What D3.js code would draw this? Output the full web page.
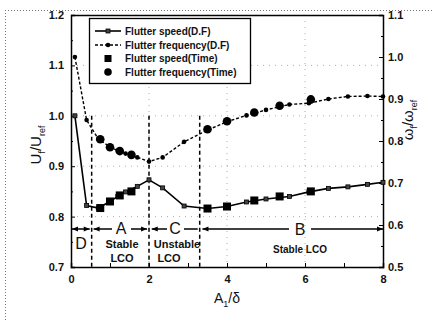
<!DOCTYPE html>
<html>
<head>
<meta charset="utf-8">
<script src="https://cdn.jsdelivr.net/npm/d3@7"></script>
<style>
  html, body { margin: 0; padding: 0; background: #fff; }
  svg text { font-family: "Liberation Sans", Arial, sans-serif; fill: #111; }
</style>
</head>
<body>
<svg id="chart" width="433" height="320"></svg>
<script>
// ---- data ----
const xDF = [0.1, 0.4, 0.7, 1.0, 1.2, 1.4, 1.7, 2.0, 2.35, 2.9, 3.5, 4.0, 4.5, 5.0, 5.6, 6.1, 6.6, 7.1, 7.6, 8.0];
const speedDF = [1.0, 0.822, 0.817, 0.830, 0.840, 0.849, 0.860, 0.873, 0.857, 0.821, 0.816, 0.820, 0.829, 0.835, 0.840, 0.849, 0.856, 0.859, 0.864, 0.868];
const freqDF = [1.0, 0.85, 0.805, 0.786, 0.777, 0.770, 0.761, 0.751, 0.761, 0.798, 0.826, 0.846, 0.861, 0.874, 0.887, 0.890, 0.900, 0.906, 0.907, 0.906];
const xTime = [0.75, 1.0, 1.25, 1.55, 3.5, 4.0, 4.7, 5.35, 6.15];
const speedTime = [0.817, 0.830, 0.842, 0.850, 0.816, 0.820, 0.832, 0.840, 0.850];
const freqTime = [0.804, 0.785, 0.776, 0.767, 0.828, 0.847, 0.868, 0.884, 0.899];
const xTicks = [0, 2, 4, 6, 8];
const yLeftTicks = [0.7, 0.8, 0.9, 1.0, 1.1, 1.2];
const yRightTicks = [0.5, 0.6, 0.7, 0.8, 0.9, 1.0, 1.1];
const regionBounds = [0.53, 2.0, 3.3];
const legendLabels = ["Flutter speed(D.F)", "Flutter frequency(D.F)", "Flutter speed(Time)", "Flutter frequency(Time)"];

// ---- layout ----
const svg = d3.select("#chart");
const L = 71, T = 15, R = 383, B = 267;
const x = d3.scaleLinear().domain([0, 8]).range([L, R]);
const yL = d3.scaleLinear().domain([0.7, 1.2]).range([B, T]);
const yR = d3.scaleLinear().domain([0.5, 1.1]).range([B, T]);

// outer dotted frame (top and left)
svg.append("line").attr("x1", 5).attr("x2", 433).attr("y1", 10.5).attr("y2", 10.5)
  .attr("stroke", "#777").attr("stroke-dasharray", "1,2");
svg.append("line").attr("x1", 5.5).attr("x2", 5.5).attr("y1", 10).attr("y2", 320)
  .attr("stroke", "#777").attr("stroke-dasharray", "1,2");

// grid
const grid = svg.append("g").attr("stroke", "#999").attr("stroke-dasharray", "1,5").attr("stroke-width", 0.8);
[0.8, 0.9, 1.0, 1.1].forEach(v => grid.append("line").attr("x1", L).attr("x2", R).attr("y1", yL(v)).attr("y2", yL(v)));
[2, 4, 6].forEach(v => grid.append("line").attr("x1", x(v)).attr("x2", x(v)).attr("y1", T).attr("y2", B));

// axes
const axB = svg.append("g").attr("transform", `translate(0,${B})`)
  .call(d3.axisBottom(x).tickValues(d3.range(0, 8.01, 1)).tickSize(-4).tickFormat(d => xTicks.includes(d) ? d : ""));
const axL = svg.append("g").attr("transform", `translate(${L},0)`)
  .call(d3.axisLeft(yL).tickValues(d3.range(0.7, 1.2001, 0.05)).tickSize(-4)
    .tickFormat(d => { const r = Math.round(d * 100) / 100; return yLeftTicks.some(t => Math.abs(t - r) < 1e-6) ? r.toFixed(1) : ""; }));
const axR = svg.append("g").attr("transform", `translate(${R},0)`)
  .call(d3.axisRight(yR).tickValues(d3.range(0.5, 1.1001, 0.05)).tickSize(-4)
    .tickFormat(d => { const r = Math.round(d * 100) / 100; return yRightTicks.some(t => Math.abs(t - r) < 1e-6) ? r.toFixed(1) : ""; }));
svg.append("line").attr("x1", L).attr("x2", R).attr("y1", T + 0.5).attr("y2", T + 0.5).attr("stroke", "#000").attr("stroke-width", 1.5);
[axB, axL, axR].forEach(a => {
  a.select(".domain").attr("stroke", "#000").attr("stroke-width", 1.5);
  a.selectAll(".tick line").attr("stroke", "#000");
  a.selectAll(".tick text").attr("font-size", 11).attr("font-weight", "bold").attr("fill", "#111");
});
axB.selectAll(".tick text").attr("dy", "1.2em");
axL.selectAll(".tick text").attr("x", -7);
axR.selectAll(".tick text").attr("x", 5);
// shorten minor ticks
axL.selectAll(".tick").filter(function(){ return d3.select(this).select("text").text() === ""; }).select("line").attr("x2", 2);
axR.selectAll(".tick").filter(function(){ return d3.select(this).select("text").text() === ""; }).select("line").attr("x2", -2);

// region dashed lines
regionBounds.forEach(v => svg.append("line").attr("x1", x(v)).attr("x2", x(v)).attr("y1", yL(1.0)).attr("y2", B)
  .attr("stroke", "#000").attr("stroke-width", 1.5).attr("stroke-dasharray", "4,3"));

// lines
const speedPts = xDF.map((d, i) => [d, speedDF[i]]);
const freqPts = xDF.map((d, i) => [d, freqDF[i]]);
svg.append("path").datum(speedPts).attr("fill", "none").attr("stroke", "#000").attr("stroke-width", 1.6)
  .attr("d", d3.line().x(d => x(d[0])).y(d => yL(d[1])));
svg.append("path").datum(freqPts).attr("fill", "none").attr("stroke", "#000").attr("stroke-width", 1.4)
  .attr("stroke-dasharray", "3,2").attr("d", d3.line().x(d => x(d[0])).y(d => yR(d[1])));
svg.append("g").selectAll("rect").data(speedPts).join("rect")
  .attr("x", d => x(d[0]) - 2).attr("y", d => yL(d[1]) - 2).attr("width", 4).attr("height", 4)
  .attr("fill", "#444").attr("stroke", "#000").attr("stroke-width", 0.8);
svg.append("g").selectAll("circle").data(freqPts).join("circle")
  .attr("cx", d => x(d[0])).attr("cy", d => yR(d[1])).attr("r", 2.3).attr("fill", "#000");
svg.append("g").selectAll("rect").data(xTime.map((d, i) => [d, speedTime[i]])).join("rect")
  .attr("x", d => x(d[0]) - 4).attr("y", d => yL(d[1]) - 4).attr("width", 8).attr("height", 8).attr("fill", "#000");
svg.append("g").selectAll("circle").data(xTime.map((d, i) => [d, freqTime[i]])).join("circle")
  .attr("cx", d => x(d[0])).attr("cy", d => yR(d[1])).attr("r", 4.3).attr("fill", "#000");

// region arrows
const defs = svg.append("defs");
defs.append("marker").attr("id", "ah").attr("viewBox", "0 0 10 10").attr("refX", 10).attr("refY", 5)
  .attr("markerWidth", 7).attr("markerHeight", 6).attr("orient", "auto-start-reverse").attr("markerUnits", "userSpaceOnUse")
  .append("path").attr("d", "M0,1 L10,5 L0,9 Z").attr("fill", "#000");
const ay = 229;
function seg(a, b, start, end) {
  const l = svg.append("line").attr("x1", a).attr("x2", b).attr("y1", ay).attr("y2", ay).attr("stroke", "#000").attr("stroke-width", 1.5);
  if (start) l.attr("marker-start", "url(#ah)");
  if (end) l.attr("marker-end", "url(#ah)");
}
seg(x(0) + 1, x(0.48), true, true);
seg(x(0.58), 112, true, false); seg(131, x(1.95), false, true);
seg(x(2.07), 167, true, false); seg(184, x(3.25), false, false);
seg(x(3.37), 289, true, false); seg(311, x(8), false, true);

const ann = svg.append("g").attr("text-anchor", "middle");
ann.append("text").attr("x", 121).attr("y", 234).attr("font-size", 16).text("A");
ann.append("text").attr("x", 81).attr("y", 249).attr("font-size", 16).text("D");
ann.append("text").attr("x", 175).attr("y", 234).attr("font-size", 16).text("C");
ann.append("text").attr("x", 300).attr("y", 235).attr("font-size", 16).text("B");
ann.append("text").attr("x", 122).attr("y", 248).attr("font-size", 11).attr("font-weight", "bold").text("Stable");
ann.append("text").attr("x", 122).attr("y", 262).attr("font-size", 11).attr("font-weight", "bold").text("LCO");
ann.append("text").attr("x", 177).attr("y", 248).attr("font-size", 11).attr("font-weight", "bold").text("Unstable");
ann.append("text").attr("x", 169).attr("y", 262).attr("font-size", 11).attr("font-weight", "bold").text("LCO");
ann.append("text").attr("x", 300).attr("y", 253).attr("font-size", 10).attr("font-weight", "bold").text("Stable LCO");

// legend
const lg = svg.append("g");
lg.append("rect").attr("x", 89.5).attr("y", 18.5).attr("width", 161).attr("height", 65).attr("fill", "#fff").attr("stroke", "#000").attr("stroke-width", 1.3);
const rows = [31, 45, 58.5, 72];
legendLabels.forEach((t, i) => {
  const yy = rows[i];
  if (i === 0) {
    lg.append("line").attr("x1", 95).attr("x2", 121).attr("y1", yy).attr("y2", yy).attr("stroke", "#000").attr("stroke-width", 1.6);
    lg.append("rect").attr("x", 106).attr("y", yy - 2).attr("width", 4).attr("height", 4).attr("fill", "#444").attr("stroke", "#000").attr("stroke-width", 0.8);
  } else if (i === 1) {
    lg.append("line").attr("x1", 95).attr("x2", 121).attr("y1", yy).attr("y2", yy).attr("stroke", "#000").attr("stroke-width", 1.3).attr("stroke-dasharray", "3,2");
    lg.append("circle").attr("cx", 108).attr("cy", yy).attr("r", 2.3).attr("fill", "#000");
  } else if (i === 2) {
    lg.append("rect").attr("x", 104.5).attr("y", yy - 3.5).attr("width", 7).attr("height", 7).attr("fill", "#000");
  } else {
    lg.append("circle").attr("cx", 108).attr("cy", yy).attr("r", 3.8).attr("fill", "#000");
  }
  lg.append("text").attr("x", 125).attr("y", yy + 3.5).attr("font-size", 10).attr("font-weight", "bold").text(t);
});

// axis titles
const lt = svg.append("text").attr("transform", "translate(41,145) rotate(-90)").attr("text-anchor", "middle").attr("font-size", 15);
lt.append("tspan").text("U");
lt.append("tspan").attr("font-size", 9).attr("dy", 4).text("f");
lt.append("tspan").attr("dy", -4).text("/U");
lt.append("tspan").attr("font-size", 9).attr("dy", 4).text("ref");
const rt = svg.append("text").attr("transform", "translate(413,120) rotate(-90)").attr("text-anchor", "middle").attr("font-size", 15);
rt.append("tspan").text("ω");
rt.append("tspan").attr("font-size", 9).attr("dy", 4).text("f");
rt.append("tspan").attr("dy", -4).text("/ω");
rt.append("tspan").attr("font-size", 9).attr("dy", 4).text("ref");
const bt = svg.append("text").attr("x", 227).attr("y", 303).attr("text-anchor", "middle").attr("font-size", 14);
bt.append("tspan").text("A");
bt.append("tspan").attr("font-size", 9).attr("dy", 4).text("1");
bt.append("tspan").attr("dy", -4).text("/δ");
</script>
</body>
</html>
